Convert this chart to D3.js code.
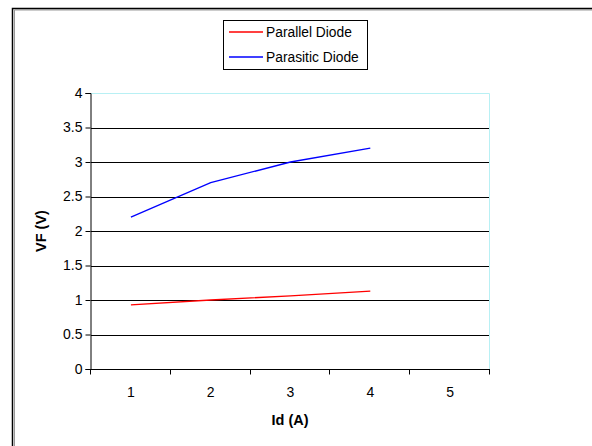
<!DOCTYPE html>
<html>
<head>
<meta charset="utf-8">
<script src="https://cdn.jsdelivr.net/npm/d3@7"></script>
<style>
  body { margin: 0; background: #fff; }
  svg { display: block; font-family: "Liberation Sans", Arial, sans-serif; }
</style>
</head>
<body>
<svg id="chart" width="592" height="446"></svg>
<script>
// Forward voltage vs. drain current for the two diodes
const categories = ["1", "2", "3", "4", "5"];
const yTicks = [0, 0.5, 1, 1.5, 2, 2.5, 3, 3.5, 4];
const parallelDiode = [0.93, 1.0, 1.06, 1.13];
const parasiticDiode = [2.2, 2.7, 3.0, 3.2];
const seriesNames = ["Parallel Diode", "Parasitic Diode"];
const seriesColors = ["#ff0000", "#0000ff"];

const svg = d3.select("#chart");
const plot = { left: 91, right: 490, top: 93, bottom: 369 };

// chart frame with a soft shadow edge
svg.append("path")
  .attr("d", `M13.5,460 V9 H600`)
  .attr("fill", "none").attr("stroke", "#999").attr("stroke-width", 1)
  .attr("transform", "translate(1,1)");
svg.append("path")
  .attr("d", `M12.5,460 V8.5 H600`)
  .attr("fill", "none").attr("stroke", "#000").attr("stroke-width", 1.5);

const x = d3.scaleBand().domain(categories).range([plot.left, plot.right]).padding(0);
const y = d3.scaleLinear().domain([0, 4]).range([plot.bottom, plot.top]);

// horizontal gridlines
svg.append("g").selectAll("line")
  .data(yTicks.filter(v => v > 0 && v < 4))
  .join("line")
  .attr("x1", plot.left).attr("x2", plot.right)
  .attr("y1", d => Math.round(y(d)) + 0.5).attr("y2", d => Math.round(y(d)) + 0.5)
  .attr("stroke", "#000").attr("stroke-width", 1);

// top and right plot edges
svg.append("path")
  .attr("d", `M${plot.left},${Math.round(y(4)) + 0.5} H${plot.right - 0.5} V${plot.bottom}`)
  .attr("fill", "none").attr("stroke", "#b8f0f4").attr("stroke-width", 1);

// y axis
const yAxis = svg.append("g")
  .attr("transform", `translate(${plot.left - 0.5},0)`)
  .call(d3.axisLeft(y).tickValues(yTicks).tickSize(5).tickPadding(3)
    .tickFormat(d => String(d)));
yAxis.select(".domain").attr("stroke", "#000");
yAxis.selectAll(".tick line").attr("stroke", "#000");
yAxis.selectAll("text").attr("font-size", 14).attr("fill", "#000")
  .attr("font-family", "'Liberation Sans', Arial, sans-serif");

// x axis: category ticks fall between the categories
const xAxis = svg.append("g")
  .attr("transform", `translate(0,${Math.round(plot.bottom) + 0.5})`);
xAxis.append("line")
  .attr("x1", plot.left - 1).attr("x2", plot.right).attr("stroke", "#000");
const bounds = categories.map(c => x(c)).concat([x(categories[categories.length - 1]) + x.bandwidth()]);
xAxis.selectAll(".tk").data(bounds).join("line")
  .attr("x1", d => Math.round(d) - 0.5).attr("x2", d => Math.round(d) - 0.5)
  .attr("y1", 0).attr("y2", 5).attr("stroke", "#000");
xAxis.selectAll("text").data(categories).join("text")
  .attr("x", d => x(d) + x.bandwidth() / 2)
  .attr("y", 27)
  .attr("text-anchor", "middle")
  .attr("font-size", 14)
  .text(d => d);

// axis titles
svg.append("text")
  .attr("x", 290).attr("y", 425)
  .attr("text-anchor", "middle").attr("font-size", 14.5).attr("font-weight", "bold")
  .text("Id (A)");
svg.append("text")
  .attr("transform", `translate(46,231) rotate(-90)`)
  .attr("text-anchor", "middle").attr("font-size", 14.5).attr("font-weight", "bold")
  .text("VF (V)");

// series lines
const line = d3.line()
  .x((d, i) => x(categories[i]) + x.bandwidth() / 2)
  .y(d => y(d));
[parallelDiode, parasiticDiode].forEach((data, i) => {
  svg.append("path")
    .datum(data)
    .attr("d", line)
    .attr("fill", "none")
    .attr("stroke", seriesColors[i])
    .attr("stroke-width", 1.3);
});

// legend
const legend = svg.append("g");
legend.append("rect")
  .attr("x", 223.5).attr("y", 20.5).attr("width", 144).attr("height", 49)
  .attr("fill", "#fff").attr("stroke", "#000").attr("stroke-width", 1);
seriesNames.forEach((name, i) => {
  const ly = 32 + i * 25;
  legend.append("line")
    .attr("x1", 229).attr("x2", 263).attr("y1", ly).attr("y2", ly)
    .attr("stroke", seriesColors[i]).attr("stroke-width", 1.3);
  legend.append("text")
    .attr("x", 266).attr("y", ly + 5)
    .attr("font-size", 13.8)
    .text(name);
});
</script>
</body>
</html>
